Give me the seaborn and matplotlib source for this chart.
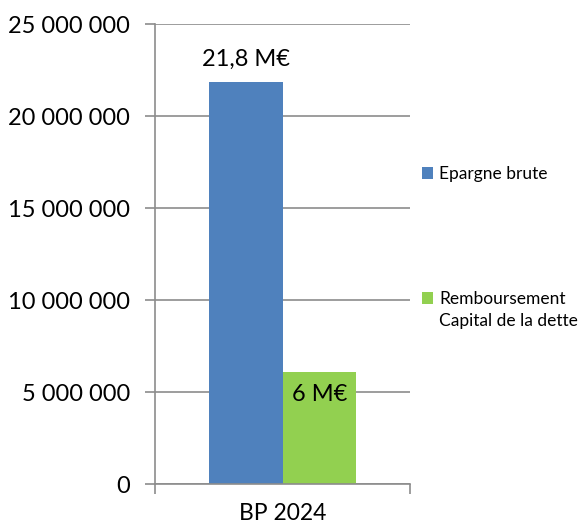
import matplotlib

matplotlib.use("Agg")
import matplotlib.pyplot as plt
from matplotlib.ticker import FuncFormatter
import pandas as pd
import seaborn as sns

categories = ["BP 2024"]
series = ["Epargne brute", "Remboursement"]
series_extra = ["", "Capital de la dette"]  # second line of the legend labels
values = [21_850_000, 6_080_000]
bar_labels = ["21,8 M€", "6 M€"]
colors = ["#4F81BD", "#92D050"]

sns.set_theme(style="white")
plt.rcParams["font.family"] = ["Lato", "DejaVu Sans"]
plt.rcParams["text.color"] = "black"

df = pd.DataFrame({"cat": categories * len(series), "serie": series, "val": values})

fig = plt.figure(figsize=(5.86, 5.28), dpi=100)
ax = fig.add_axes([0.2645, 0.0833, 0.4352, 0.8712])
sns.barplot(data=df, x="cat", y="val", hue="serie", palette=colors,
            width=0.58, saturation=1, linewidth=0, ax=ax)

ax.set_ylim(0, 25_000_000)
ax.set_yticks(range(0, 25_000_001, 5_000_000))
ax.yaxis.set_major_formatter(FuncFormatter(lambda v, p: f"{int(v):,}".replace(",", " ")))
ax.yaxis.grid(True, color="#8c8c8c", linewidth=1.2)
ax.set_axisbelow(True)
for s in ["top", "right"]:
    ax.spines[s].set_visible(False)
for s in ["left", "bottom"]:
    ax.spines[s].set_color("#8c8c8c")
    ax.spines[s].set_linewidth(1.2)
ax.tick_params(axis="y", left=True, length=7, color="#8c8c8c", width=1.2,
               labelsize=17, pad=11, labelcolor="black")
ax.tick_params(axis="x", which="major", bottom=False, labelsize=16.5, pad=8, labelcolor="black")
ax.set_xticks([-0.5, 0.5], minor=True)
ax.tick_params(axis="x", which="minor", bottom=True, length=7, color="#8c8c8c", width=1.2)
ax.set_xlim(-0.5, 0.5)
ax.set_xlabel("")
ax.set_ylabel("")

ax.bar_label(ax.containers[0], labels=[bar_labels[0]], padding=9, fontsize=17)
ax.bar_label(ax.containers[1], labels=[bar_labels[1]], padding=-24, fontsize=17)

leg = ax.legend(loc="center left", bbox_to_anchor=(0.985, 0.538), frameon=False,
                fontsize=12.5, handlelength=0.65, handleheight=0.65, handletextpad=0.35,
                labelspacing=6.3)

# second line of the second legend label, aligned under the first line
fig.canvas.draw()
for txt, extra in zip(leg.get_texts(), series_extra):
    if extra:
        bb = txt.get_window_extent()
        fig.text(bb.x0 / fig.dpi / fig.get_figwidth(),
                 (bb.y0 - 22) / fig.dpi / fig.get_figheight(),
                 extra, fontsize=12.5, ha="left", va="bottom")

fig.savefig("out.png", dpi=100)
